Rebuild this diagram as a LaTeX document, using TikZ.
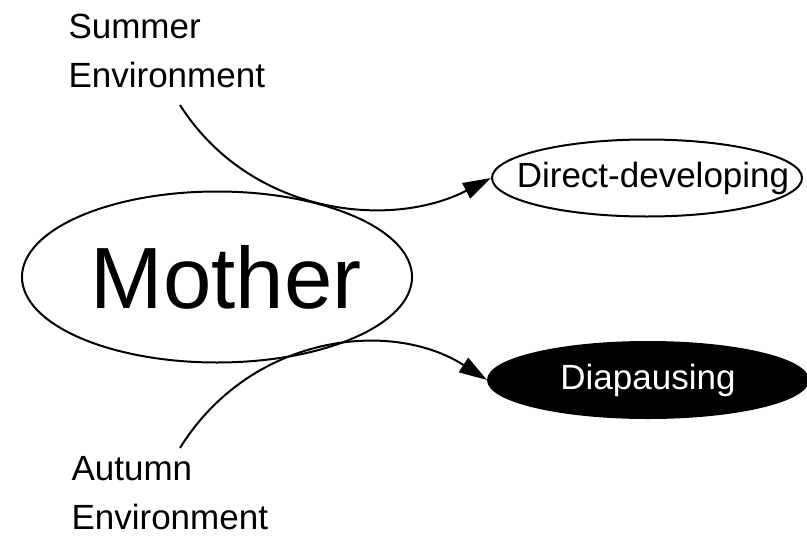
\documentclass[tikz,border=0pt]{standalone}
\usepackage{fontspec}
\setmainfont{Liberation Sans}
\usetikzlibrary{arrows.meta}
\usetikzlibrary{shapes.geometric}
\usetikzlibrary{positioning}

\begin{document}
\begin{tikzpicture}[x=1pt, y=-1pt, font=\fontsize{35}{49}\selectfont]
	\useasboundingbox (0,0) rectangle (807,536);

	\begin{scope}[every node/.style={ellipse, draw, line width=2pt, inner sep=0pt}]
		\node[minimum width=390pt, minimum height=171pt, font=\fontsize{87}{87}\selectfont] (mother) at (217,277) {\makebox[0pt]{\hspace*{18pt}Mother}};
		\node[minimum width=310pt, minimum height=77pt] (direct) at (647,178) {\makebox[0pt]{\hspace*{12pt}Direct-developing}};
		\node[fill=black, text=white, minimum width=320pt, minimum height=76pt] (diap) at (648,380) {\makebox[0pt]{Diapausing}};
	\end{scope}

	\node[align=left, anchor=base west] (summer) at (65,87) {Summer\\Environment};
	\node[align=left, anchor=base west] (autumn) at (68,529) {Autumn\\Environment};
	\coordinate (sumtail) at (180,105);
	\coordinate (auttail) at (180,448);

	\begin{scope}[>={Triangle[length=28pt, width=17pt]}, line width=2pt]
		\draw[->] (sumtail) .. controls (250,215) and (390,230) .. (direct.west);
		\draw[->] (auttail) .. controls (250,335) and (390,318) .. (diap.west);
	\end{scope}
\end{tikzpicture}
\end{document}
